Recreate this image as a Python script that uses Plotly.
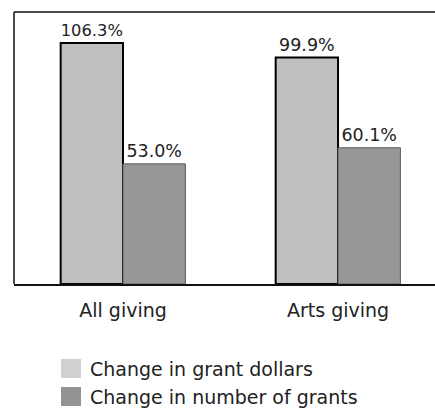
import plotly.graph_objects as go

categories = ["All giving", "Arts giving"]
series_names = ["Change in grant dollars", "Change in number of grants"]
grant_dollars = [106.3, 99.9]
number_of_grants = [53.0, 60.1]

FONT = "DejaVu Sans"
LIGHT = "#c0c0c0"
DARK = "#979797"

fig = go.Figure()
fig.add_trace(go.Bar(
    x=categories, y=grant_dollars, name=series_names[0],
    marker=dict(color=LIGHT, line=dict(color="#000000", width=2)),
    text=[f"{v:.1f}%" for v in grant_dollars], textposition="outside",
    textfont=dict(family=FONT, size=17.5, color="#222222"),
    cliponaxis=False,
))
fig.add_trace(go.Bar(
    x=categories, y=number_of_grants, name=series_names[1],
    marker=dict(color=DARK, line=dict(color="#5a5a5a", width=1)),
    text=[f"{v:.1f}%" for v in number_of_grants], textposition="outside",
    textfont=dict(family=FONT, size=17.5, color="#222222"),
    cliponaxis=False,
))

# Frame: left and top edges of the plotting area
fig.add_shape(type="line", xref="paper", yref="paper", x0=0, x1=0, y0=0, y1=1,
              line=dict(color="#111111", width=1.5))
fig.add_shape(type="line", xref="paper", yref="paper", x0=0, x1=1, y0=1, y1=1,
              line=dict(color="#111111", width=1.5))

# Hand-built legend with larger swatches
legend_colors = ["#d0d0d0", "#939393"]
for i, (name, col) in enumerate(zip(series_names, legend_colors)):
    y0 = 359 + i * 28
    fig.add_shape(type="rect", xref="paper", yref="paper",
                  x0=(61 - 14) / 421, x1=(81 - 14) / 421,
                  y0=(284 - y0) / 272, y1=(284 - (y0 + 19)) / 272,
                  fillcolor=col, line=dict(width=0))
    fig.add_annotation(xref="paper", yref="paper",
                       x=(88 - 14) / 421, y=(284 - (y0 + 9.5)) / 272,
                       text=name, showarrow=False, xanchor="left", yanchor="middle",
                       font=dict(family=FONT, size=19, color="#222222"))

fig.update_layout(
    width=435, height=409,
    margin=dict(l=14, r=0, t=12, b=125),
    paper_bgcolor="white", plot_bgcolor="white",
    barmode="group", bargap=0.42, bargroupgap=0,
    showlegend=False,
    font=dict(family=FONT, size=19, color="#222222"),
    xaxis=dict(type="category", range=[-0.507, 1.451], showline=True,
               linecolor="#111111", linewidth=1.5, ticks="", showgrid=False,
               ticklabelstandoff=8,
               tickfont=dict(family=FONT, size=19, color="#222222")),
    yaxis=dict(range=[0, 120], showline=False,
               showticklabels=False, ticks="", showgrid=False, zeroline=False),
)

fig.write_html("out.html")
